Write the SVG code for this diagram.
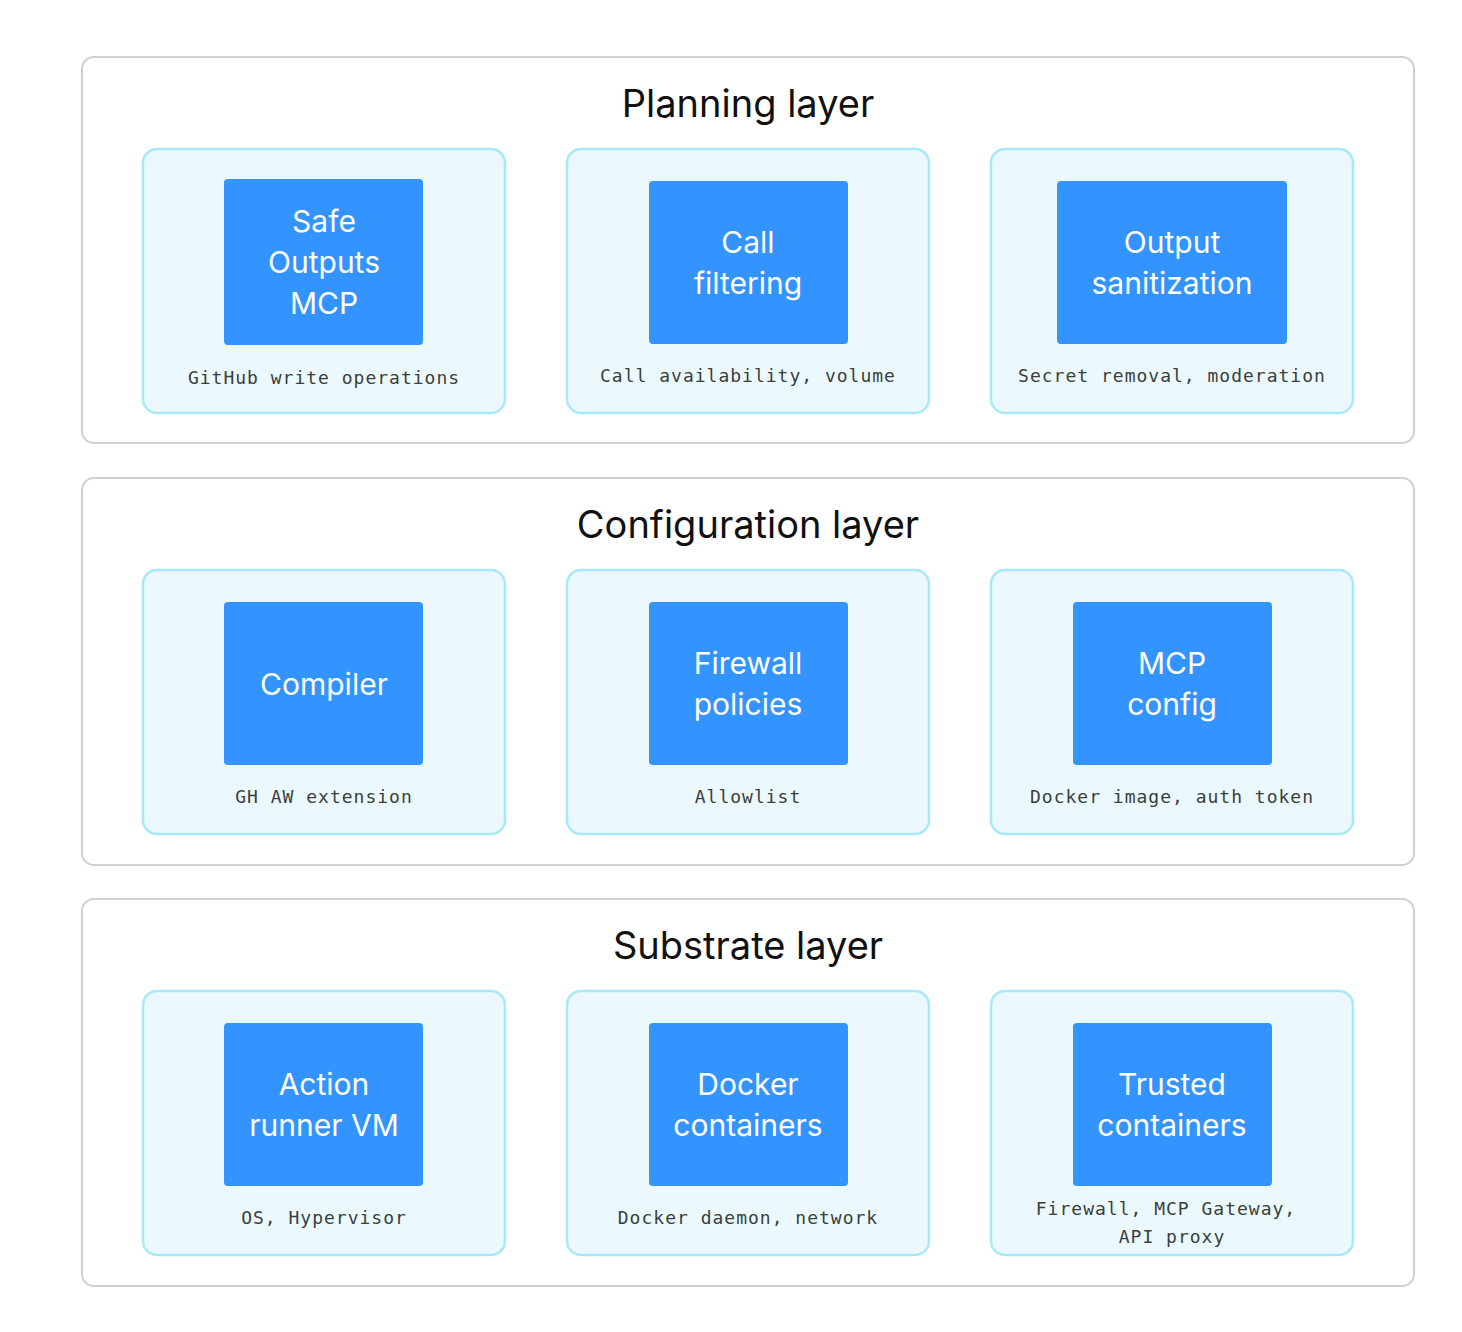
<svg xmlns="http://www.w3.org/2000/svg" width="1462" height="1332" viewBox="0 0 1462 1332">
<style>
.layer{fill:#fff;stroke:#d0d0d0;stroke-width:2}
.card{fill:#ebf9fe;stroke:#a8e8f8;stroke-width:2.5}
.box{fill:#3393ff}
.title{font-family:Inter,"Liberation Sans",sans-serif;font-size:38px;fill:#111;text-anchor:middle}
.bt{font-family:Inter,"Liberation Sans",sans-serif;font-size:30px;fill:#fff;text-anchor:middle}
.sub{font-family:"DejaVu Sans Mono","Liberation Mono",monospace;font-size:18px;fill:#3a3f3a;text-anchor:middle;letter-spacing:1px}
</style>
<rect width="1462" height="1332" fill="#fff"/>
<g id="planning">
<rect class="layer" x="82" y="57" width="1332" height="386" rx="12"/>
<text class="title" x="748" y="117">Planning layer</text>
</g>
<g id="configuration">
<rect class="layer" x="82" y="478" width="1332" height="387" rx="12"/>
<text class="title" x="748" y="538">Configuration layer</text>
</g>
<g id="substrate">
<rect class="layer" x="82" y="899" width="1332" height="387" rx="12"/>
<text class="title" x="748" y="959">Substrate layer</text>
</g>
<g id="safe-outputs">
<rect class="card" x="143" y="149" width="362" height="264" rx="14"/>
<rect class="box" x="224" y="179" width="199" height="166" rx="4"/>
<text class="bt" x="324" y="232">Safe</text><text class="bt" x="324" y="273">Outputs</text><text class="bt" x="324" y="314">MCP</text>
<text class="sub" x="324" y="384">GitHub write operations</text>
</g>
<g id="call-filtering">
<rect class="card" x="567" y="149" width="362" height="264" rx="14"/>
<rect class="box" x="649" y="181" width="199" height="163" rx="4"/>
<text class="bt" x="748" y="253">Call</text><text class="bt" x="748" y="294">filtering</text>
<text class="sub" x="748" y="382">Call availability, volume</text>
</g>
<g id="output-sanitization">
<rect class="card" x="991" y="149" width="362" height="264" rx="14"/>
<rect class="box" x="1057" y="181" width="230" height="163" rx="4"/>
<text class="bt" x="1172" y="253">Output</text><text class="bt" x="1172" y="294">sanitization</text>
<text class="sub" x="1172" y="382">Secret removal, moderation</text>
</g>
<g id="compiler">
<rect class="card" x="143" y="570" width="362" height="264" rx="14"/>
<rect class="box" x="224" y="602" width="199" height="163" rx="4"/>
<text class="bt" x="324" y="695">Compiler</text>
<text class="sub" x="324" y="803">GH AW extension</text>
</g>
<g id="firewall-policies">
<rect class="card" x="567" y="570" width="362" height="264" rx="14"/>
<rect class="box" x="649" y="602" width="199" height="163" rx="4"/>
<text class="bt" x="748" y="674">Firewall</text><text class="bt" x="748" y="715">policies</text>
<text class="sub" x="748" y="803">Allowlist</text>
</g>
<g id="mcp-config">
<rect class="card" x="991" y="570" width="362" height="264" rx="14"/>
<rect class="box" x="1073" y="602" width="199" height="163" rx="4"/>
<text class="bt" x="1172" y="674">MCP</text><text class="bt" x="1172" y="715">config</text>
<text class="sub" x="1172" y="803">Docker image, auth token</text>
</g>
<g id="action-runner">
<rect class="card" x="143" y="991" width="362" height="264" rx="14"/>
<rect class="box" x="224" y="1023" width="199" height="163" rx="4"/>
<text class="bt" x="324" y="1095">Action</text><text class="bt" x="324" y="1136">runner VM</text>
<text class="sub" x="324" y="1224">OS, Hypervisor</text>
</g>
<g id="docker-containers">
<rect class="card" x="567" y="991" width="362" height="264" rx="14"/>
<rect class="box" x="649" y="1023" width="199" height="163" rx="4"/>
<text class="bt" x="748" y="1095">Docker</text><text class="bt" x="748" y="1136">containers</text>
<text class="sub" x="748" y="1224">Docker daemon, network</text>
</g>
<g id="trusted-containers">
<rect class="card" x="991" y="991" width="362" height="264" rx="14"/>
<rect class="box" x="1073" y="1023" width="199" height="163" rx="4"/>
<text class="bt" x="1172" y="1095">Trusted</text><text class="bt" x="1172" y="1136">containers</text>
<text class="sub" x="1166" y="1215">Firewall, MCP Gateway,</text>
<text class="sub" x="1172" y="1243">API proxy</text>
</g>
<g id="connectors"/>
</svg>
